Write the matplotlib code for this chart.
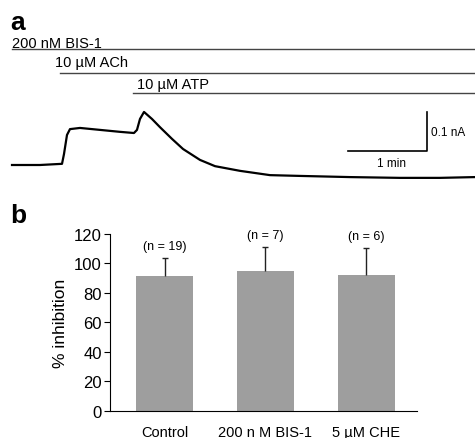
import matplotlib
matplotlib.use("Agg")
from matplotlib import pyplot as plt

plt.rcParams['font.family'] = ['Liberation Sans', 'DejaVu Sans']

# panel a: whole-cell current trace (time in min, current in nA)
trace_t = [0, 0.354, 0.633, 0.658, 0.696, 0.734, 0.861, 1.114, 1.367, 1.544, 1.582, 1.62,
           1.671, 1.772, 1.873, 2.025, 2.165, 2.380, 2.570, 2.886, 3.266, 3.646, 4.278,
           4.911, 5.418, 5.861]
trace_i = [0, 0, 0.003, 0.028, 0.077, 0.092, 0.095, 0.090, 0.085, 0.082, 0.090, 0.118,
           0.136, 0.118, 0.097, 0.067, 0.041, 0.013, -0.003, -0.015, -0.026, -0.028, -0.031,
           -0.033, -0.033, -0.031]

drugs = ["200 nM BIS-1", "10 \u00b5M ACh", "10 \u00b5M ATP"]
drug_start = [0, 0.61, 1.53]
drug_end = 5.86

# panel b: % inhibition
groups = ["Control", "200 n M BIS-1", "5 \u00b5M CHE"]
inhibition = [91.5, 95, 92]
sem = [12.5, 16, 18.5]
n_cells = [19, 7, 6]

fig = plt.figure(figsize=(4.75, 4.39), dpi=100)

# ---- a ----
ax1 = fig.add_axes([0, 0.5444, 1, 0.4556])
ax1.set_xlim(-0.152, 5.861)
ax1.set_ylim(-0.0872, 0.4256)
ax1.axis('off')

ax1.plot(trace_t, trace_i, color='k', linewidth=1.6)

bar_y = [0.297, 0.236, 0.185]
text_y = [0.313, 0.264, 0.208]
text_dx = [0, -0.066, 0.05]
for name, t0, by, ty, dx in zip(drugs, drug_start, bar_y, text_y, text_dx):
    ax1.plot([t0, drug_end], [by, by], color='#444444', linewidth=1)
    ax1.text(t0 + dx, ty, name, fontsize=10.5, va='center', ha='left')

# scale bar
ax1.plot([4.25, 5.25, 5.25], [0.036, 0.036, 0.136], color='k', linewidth=1.2)
ax1.text(5.31, 0.085, "0.1 nA", fontsize=8.5, va='center', ha='left')
ax1.text(4.80, 0.004, "1 min", fontsize=8.5, va='center', ha='center')

fig.text(0.021, 0.932, "a", fontsize=19, fontweight='bold', va='baseline')
fig.text(0.021, 0.492, "b", fontsize=19, fontweight='bold', va='baseline')

# ---- b ----
ax2 = fig.add_axes([0.2316, 0.0622, 0.646, 0.4025])
x = range(len(groups))
ax2.bar(x, inhibition, width=0.564, color='#9e9e9e')
eb = ax2.errorbar(x, inhibition, yerr=[[0] * len(sem), sem], fmt='none', ecolor='#222222',
                  elinewidth=1, capsize=2, capthick=1)
# only the upper cap is visible in the figure
eb[1][0].set_visible(False)
for xi, m, e, n in zip(x, inhibition, sem, n_cells):
    ax2.text(xi, m + e + 8, "(n = {})".format(n), fontsize=9, ha='center', va='center')

ax2.set_xlim(-0.54, 2.5)
ax2.set_ylim(0, 120)
ax2.set_yticks(range(0, 121, 20))
ax2.set_xticks(list(x))
ax2.set_xticklabels(groups, fontsize=10.5)
ax2.tick_params(axis='x', length=0, pad=10)
ax2.tick_params(axis='y', length=4, width=0.8, labelsize=12, pad=2)
ax2.set_ylabel("% inhibition", fontsize=12.5, labelpad=4)
ax2.spines['top'].set_visible(False)
ax2.spines['right'].set_visible(False)
ax2.spines['left'].set_linewidth(0.8)
ax2.spines['bottom'].set_linewidth(0.8)

plt.savefig("out.png", dpi=100)
